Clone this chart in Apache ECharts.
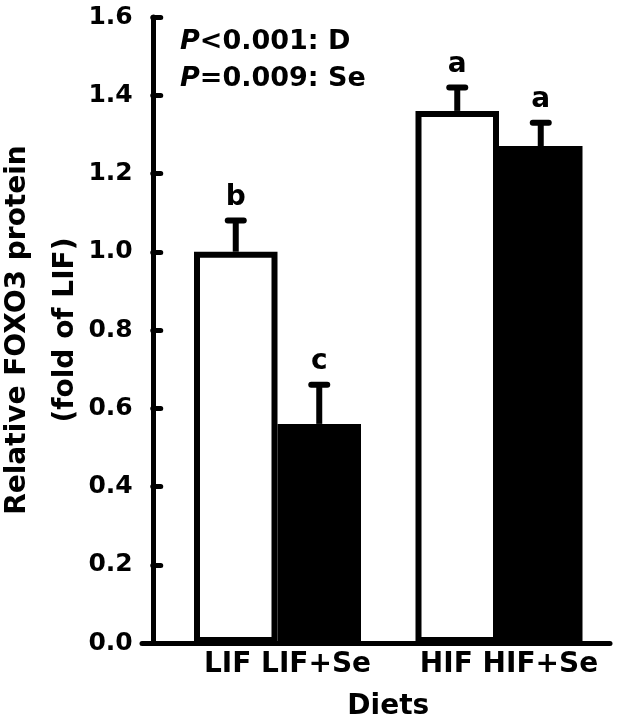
<!DOCTYPE html>
<html>
<head>
<meta charset="utf-8">
<script src="https://cdn.jsdelivr.net/npm/echarts@6/dist/echarts.min.js"></script>
<style>html,body{margin:0;padding:0;background:#fff}#c{width:618px;height:723px}</style>
</head>
<body>
<div id="c"></div>
<script>
// ---- data ----
const diets = ['LIF', 'LIF+Se', 'HIF', 'HIF+Se'];
const groups = ['LIF', 'HIF'];
const basalMean = [1.00, 1.36];      // LIF, HIF (white bars)
const basalUpper = [1.08, 1.42];     // mean + SE
const seMean = [0.56, 1.27];         // LIF+Se, HIF+Se (black bars)
const seUpper = [0.66, 1.33];
const basalLetters = ['b', 'a'];
const seLetters = ['c', 'a'];
const yTicks = [0, 0.2, 0.4, 0.6, 0.8, 1.0, 1.2, 1.4, 1.6];
const pLines = [['P', '<0.001: D'], ['P', '=0.009: Se']];

const FONT = 'DejaVu Sans';
const BAR_W = 83.5;

function errSeries(means, uppers, letters, sign) {
  return {
    type: 'custom', xAxisIndex: 1, yAxisIndex: 1, z: 5,
    data: means.map((m, i) => [i, m, uppers[i], letters[i]]),
    renderItem: function (params, api) {
      const i = api.value(0);
      const top = api.coord([i, api.value(2)]);
      const base = api.coord([i, api.value(1)]);
      const x = top[0] + sign * BAR_W / 2;
      const ls = { stroke: '#000', lineWidth: 6, lineCap: 'round' };
      return {
        type: 'group',
        children: [
          { type: 'line', shape: { x1: x, y1: base[1], x2: x, y2: top[1] }, style: { stroke: '#000', lineWidth: 6 } },
          { type: 'line', shape: { x1: x - 8, y1: top[1], x2: x + 8, y2: top[1] }, style: ls },
          { type: 'text', x: x, y: top[1] - 9,
            style: { text: letters[i], fill: '#000', font: 'bold 28px "' + FONT + '"', align: 'center', verticalAlign: 'bottom' } }
        ]
      };
    }
  };
}

const chart = echarts.init(document.getElementById('c'), null, { renderer: 'canvas' });
chart.setOption({
  animation: false,
  backgroundColor: '#fff',
  textStyle: { fontFamily: FONT },
  title: {
    left: 180, top: 23, padding: 0,
    text: pLines.map(l => '{p|' + l[0] + '}{n|' + l[1] + '}').join('\n'),
    textStyle: {
      rich: {
        p: { fontFamily: FONT, fontSize: 27, fontWeight: 'bold', fontStyle: 'italic', color: '#000', lineHeight: 37 },
        n: { fontFamily: FONT, fontSize: 27, fontWeight: 'bold', color: '#000', lineHeight: 37 }
      }
    }
  },
  grid: [
    { left: 142, right: 8, top: 17, bottom: 80, outerBoundsMode: 'none', containLabel: false },
    { left: 166.75, right: 8.25, top: 17, bottom: 80, outerBoundsMode: 'none', containLabel: false }
  ],
  xAxis: [
    { gridIndex: 0, type: 'category', data: [''], axisLabel: { show: false }, axisTick: { show: false },
      axisLine: { lineStyle: { color: '#000', width: 5, cap: 'round' } } },
    { gridIndex: 1, type: 'category', data: groups,
      axisLine: { show: false }, axisTick: { show: false },
      axisLabel: {
        interval: 0, hideOverlap: false,
        margin: 8, color: '#000', fontFamily: FONT, fontSize: 28, fontWeight: 'bold',
        formatter: (v, i) => diets[2 * i] + ' ' + diets[2 * i + 1],
        padding: [0, 0, 0, 20]
      },
      name: 'Diets', nameLocation: 'middle', nameGap: 50, nameMoveOverlap: false,
      nameTextStyle: { color: '#000', fontFamily: FONT, fontSize: 28, fontWeight: 'bold' }
    }
  ],
  yAxis: [
    { gridIndex: 0, type: 'value', min: 0, max: 1.6, show: false },
    { gridIndex: 1, type: 'value', min: 0, max: 1.6, interval: 0.2, offset: 14,
      splitLine: { show: false },
      axisLine: { show: true, lineStyle: { color: '#000', width: 5, cap: 'round' } },
      axisTick: { show: true, inside: true, length: 8, lineStyle: { color: '#000', width: 5, cap: 'round' } },
      axisLabel: { margin: 20, color: '#000', fontFamily: FONT, fontSize: 25, fontWeight: 'bold',
        formatter: v => v.toFixed(1) },
      name: 'Relative FOXO3 protein\n(fold of LIF)', nameLocation: 'middle', nameGap: 63, nameMoveOverlap: false,
      nameTextStyle: { color: '#000', fontFamily: FONT, fontSize: 28, fontWeight: 'bold', lineHeight: 48 }
    }
  ],
  series: [
    { type: 'bar', xAxisIndex: 1, yAxisIndex: 1, data: basalMean, barWidth: BAR_W, barGap: '0%',
      itemStyle: { color: '#fff', borderColor: '#000', borderWidth: 6 } },
    { type: 'bar', xAxisIndex: 1, yAxisIndex: 1, data: seMean, barWidth: BAR_W, barGap: '0%',
      itemStyle: { color: '#000', borderColor: '#000', borderWidth: 6 } },
    errSeries(basalMean, basalUpper, basalLetters, -1),
    errSeries(seMean, seUpper, seLetters, 1)
  ]
});
</script>
</body>
</html>
